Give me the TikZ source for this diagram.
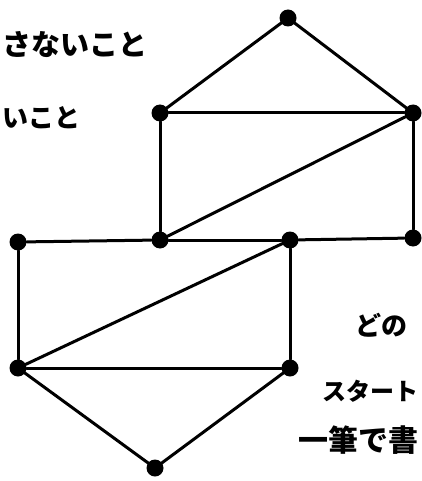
\documentclass[tikz,border=0pt]{standalone}
\usepackage{fontspec}
\newfontfamily\jp{Noto Sans CJK JP}
\begin{document}
\begin{tikzpicture}[x=1pt,y=-1pt,
  dot/.style={circle,fill=black,inner sep=0pt,minimum size=17pt},
  edge/.style={line width=3pt,line cap=round},
  txt/.style={inner sep=0pt,anchor=west}]
\useasboundingbox (0,0) rectangle (421,481);
\node[dot] (top) at (288,18) {};
\node[dot] (tl) at (160,113) {};
\node[dot] (tr) at (413,113) {};
\node[dot] (a) at (18,242) {};
\node[dot] (b) at (160,240) {};
\node[dot] (c) at (290,240) {};
\node[dot] (d) at (413,238) {};
\node[dot] (ll) at (18,368) {};
\node[dot] (lr) at (290,368) {};
\node[dot] (bot) at (155,468) {};
\draw[edge] (top) -- (tl);
\draw[edge] (top) -- (tr);
\draw[edge] (tl) -- (tr);
\draw[edge] (tl) -- (b);
\draw[edge] (tr) -- (d);
\draw[edge] (tr) -- (b);
\draw[edge] (a) -- (b);
\draw[edge] (b) -- (c);
\draw[edge] (c) -- (d);
\draw[edge] (a) -- (ll);
\draw[edge] (c) -- (lr);
\draw[edge] (c) -- (ll);
\draw[edge] (ll) -- (lr);
\draw[edge] (ll) -- (bot);
\draw[edge] (lr) -- (bot);
\node[txt,font=\jp\bfseries\fontsize{29}{32}\selectfont] (t1) at (2,45) {さないこと};
\node[txt,font=\jp\bfseries\fontsize{26}{30}\selectfont] (t2) at (2,118) {いこと};
\node[txt,font=\jp\bfseries\fontsize{26}{30}\selectfont] (t3) at (355,325) {どの};
\node[txt,font=\jp\bfseries\fontsize{24}{28}\selectfont] (t4) at (322,391) {スタート};
\node[txt,font=\jp\bfseries\fontsize{30}{34}\selectfont] (t5) at (298,440) {一筆で書};
\end{tikzpicture}
\end{document}
